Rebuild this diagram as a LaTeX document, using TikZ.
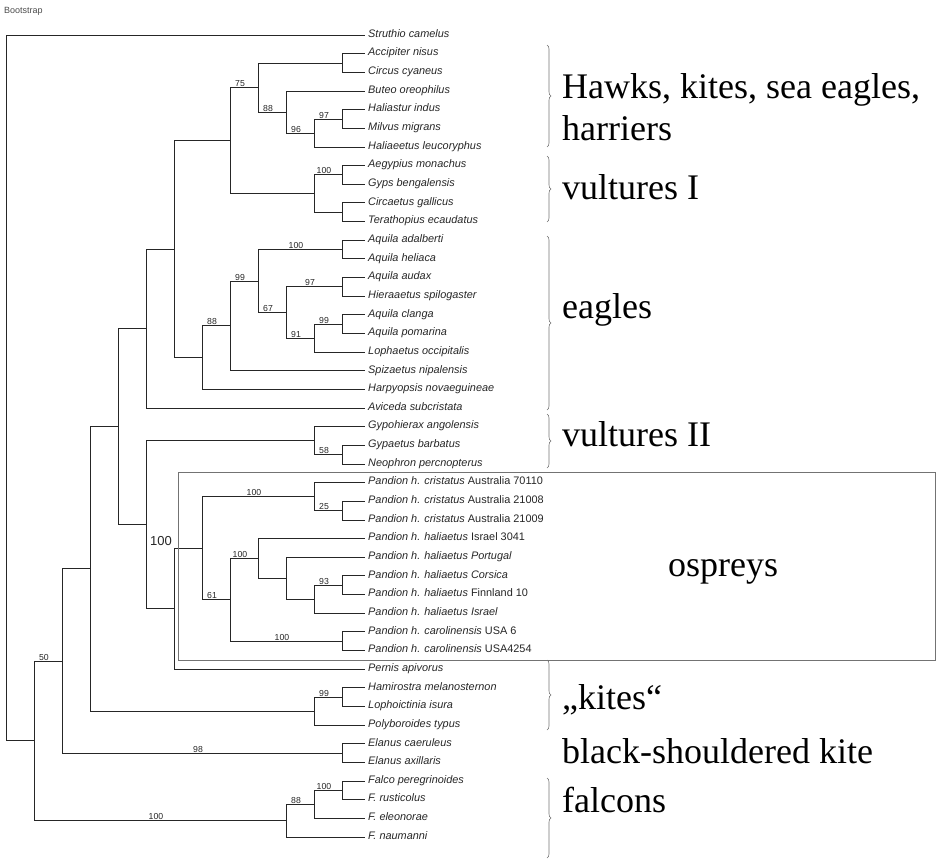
\documentclass[tikz,border=0pt]{standalone}
\usepackage{fontspec}
\setmainfont{Liberation Serif}
\setsansfont{Liberation Sans}
\usetikzlibrary{decorations.pathreplacing}
\newcommand\py[1]{((#1)-35)/18.65}
\newcommand\ed[2]{\draw[br] (#1) |- (#2);}
\newcommand\bsv[3]{\path (#1|-#2) -- (#2) node[bsl] (b#2) {#3};}
\begin{document}
\begin{tikzpicture}[x=1pt,y=-18.65pt,
  br/.style={draw=black!85, line width=0.8pt},
  leaf/.style={anchor=mid west, inner sep=0pt, text=black!85, font=\fontsize{10.9}{11}\sffamily\itshape},
  bsl/.style={midway, above=0.6pt, xshift=-4pt, inner sep=0pt, text=black!85, font=\fontsize{8.7}{9}\sffamily},
  grp/.style={anchor=base west, inner sep=0pt, font=\fontsize{36}{38}\selectfont},
  brk/.style={draw=black!55, line width=0.6pt, decorate, decoration={brace, amplitude=4pt}},
  boxs/.style={draw=black!55, line width=0.5pt}
]
\useasboundingbox (0,{\py{0}}) rectangle (937,{\py{863}});
\foreach \i in {0,...,43} \coordinate (t\i) at (365,\i);
% internal nodes
\coordinate (R) at (6,18.92);
\coordinate (N34) at (34,37.843);
\coordinate (N62) at (62,33.5615);
\coordinate (N90) at (90,28.623);
\coordinate (N118) at (118,20.996);
\coordinate (N146a) at (146,15.738);
\coordinate (N172) at (174,11.4766);
\coordinate (HV) at (230,5.65625);
\coordinate (H75) at (258,2.8125);
\coordinate (Hac) at (342,1.5);
\coordinate (H88) at (286,4.125);
\coordinate (H96) at (314,5.25);
\coordinate (H97) at (342,4.5);
\coordinate (V1) at (314,8.5);
\coordinate (V100) at (342,7.5);
\coordinate (Vcg) at (342,9.5);
\coordinate (E202) at (202,17.2969);
\coordinate (E88) at (230,15.5938);
\coordinate (E99) at (258,13.1875);
\coordinate (E100) at (342,11.5);
\coordinate (E67) at (286,14.875);
\coordinate (E97) at (342,13.5);
\coordinate (E91) at (314,16.25);
\coordinate (E99c) at (342,15.5);
\coordinate (N146b) at (146,26.254);
\coordinate (V2) at (314,21.75);
\coordinate (V58) at (342,22.5);
\coordinate (N174) at (174,30.758);
\coordinate (Oroot) at (202,27.516);
\coordinate (Ocris) at (314,24.75);
\coordinate (Oc25) at (342,25.5);
\coordinate (O61) at (230,30.281);
\coordinate (O100h) at (258,28.0625);
\coordinate (Oy) at (286,29.125);
\coordinate (Ox) at (314,30.25);
\coordinate (O93) at (342,29.5);
\coordinate (Ocar) at (342,32.5);
\coordinate (Kroot) at (314,36.25);
\coordinate (K99) at (342,35.5);
\coordinate (El) at (342,38.5);
\coordinate (Froot) at (286,42.125);
\coordinate (F88) at (314,41.25);
\coordinate (F100) at (342,40.5);
% edges
\ed{R}{t0} \ed{R}{N34}
\ed{N34}{N62} \ed{N34}{Froot}
\ed{N62}{N90} \ed{N62}{El}
\ed{N90}{N118} \ed{N90}{Kroot}
\ed{N118}{N146a} \ed{N118}{N146b}
\ed{N146a}{N172} \ed{N146a}{t20}
\ed{N172}{HV} \ed{N172}{E202}
\ed{HV}{H75} \ed{HV}{V1}
\ed{H75}{Hac} \ed{H75}{H88}
\ed{Hac}{t1} \ed{Hac}{t2}
\ed{H88}{t3} \ed{H88}{H96}
\ed{H96}{H97} \ed{H96}{t6}
\ed{H97}{t4} \ed{H97}{t5}
\ed{V1}{V100} \ed{V1}{Vcg}
\ed{V100}{t7} \ed{V100}{t8}
\ed{Vcg}{t9} \ed{Vcg}{t10}
\ed{E202}{E88} \ed{E202}{t19}
\ed{E88}{E99} \ed{E88}{t18}
\ed{E99}{E100} \ed{E99}{E67}
\ed{E100}{t11} \ed{E100}{t12}
\ed{E67}{E97} \ed{E67}{E91}
\ed{E97}{t13} \ed{E97}{t14}
\ed{E91}{E99c} \ed{E91}{t17}
\ed{E99c}{t15} \ed{E99c}{t16}
\ed{N146b}{V2} \ed{N146b}{N174}
\ed{V2}{t21} \ed{V2}{V58}
\ed{V58}{t22} \ed{V58}{t23}
\ed{N174}{Oroot} \ed{N174}{t34}
\ed{Oroot}{Ocris} \ed{Oroot}{O61}
\ed{Ocris}{t24} \ed{Ocris}{Oc25}
\ed{Oc25}{t25} \ed{Oc25}{t26}
\ed{O61}{O100h} \ed{O61}{Ocar}
\ed{O100h}{t27} \ed{O100h}{Oy}
\ed{Oy}{t28} \ed{Oy}{Ox}
\ed{Ox}{O93} \ed{Ox}{t31}
\ed{O93}{t29} \ed{O93}{t30}
\ed{Ocar}{t32} \ed{Ocar}{t33}
\ed{Kroot}{K99} \ed{Kroot}{t37}
\ed{K99}{t35} \ed{K99}{t36}
\ed{El}{t38} \ed{El}{t39}
\ed{Froot}{F88} \ed{Froot}{t43}
\ed{F88}{F100} \ed{F88}{t42}
\ed{F100}{t40} \ed{F100}{t41}
% bootstrap values
\bsv{HV}{H75}{75}
\bsv{H75}{H88}{88}
\bsv{H88}{H96}{96}
\bsv{H96}{H97}{97}
\bsv{V1}{V100}{100}
\bsv{E99}{E100}{100}
\bsv{E88}{E99}{99}
\bsv{E202}{E88}{88}
\bsv{E67}{E97}{97}
\bsv{E99}{E67}{67}
\bsv{E67}{E91}{91}
\bsv{E91}{E99c}{99}
\bsv{V2}{V58}{58}
\bsv{Oroot}{Ocris}{100}
\bsv{Ocris}{Oc25}{25}
\bsv{O61}{O100h}{100}
\bsv{Ox}{O93}{93}
\bsv{Oroot}{O61}{61}
\bsv{O61}{Ocar}{100}
\bsv{Kroot}{K99}{99}
\bsv{N34}{N62}{50}
\bsv{N62}{El}{98}
\bsv{F88}{F100}{100}
\bsv{Froot}{F88}{88}
\bsv{N34}{Froot}{100}
\node[inner sep=0pt, text=black!85, font=\fontsize{13}{13}\sffamily] (big100) at (161,{\py{541}}) {100};
\node[anchor=west, inner sep=0pt, text=black!70, font=\fontsize{9}{9}\sffamily] (bstitle) at (4,{\py{11}}) {Bootstrap};
% leaves
\node[leaf] (L0) at (368,0) {Struthio camelus};
\node[leaf] (L1) at (368,1) {Accipiter nisus};
\node[leaf] (L2) at (368,2) {Circus cyaneus};
\node[leaf] (L3) at (368,3) {Buteo oreophilus};
\node[leaf] (L4) at (368,4) {Haliastur indus};
\node[leaf] (L5) at (368,5) {Milvus migrans};
\node[leaf] (L6) at (368,6) {Haliaeetus leucoryphus};
\node[leaf] (L7) at (368,7) {Aegypius monachus};
\node[leaf] (L8) at (368,8) {Gyps bengalensis};
\node[leaf] (L9) at (368,9) {Circaetus gallicus};
\node[leaf] (L10) at (368,10) {Terathopius ecaudatus};
\node[leaf] (L11) at (368,11) {Aquila adalberti};
\node[leaf] (L12) at (368,12) {Aquila heliaca};
\node[leaf] (L13) at (368,13) {Aquila audax};
\node[leaf] (L14) at (368,14) {Hieraaetus spilogaster};
\node[leaf] (L15) at (368,15) {Aquila clanga};
\node[leaf] (L16) at (368,16) {Aquila pomarina};
\node[leaf] (L17) at (368,17) {Lophaetus occipitalis};
\node[leaf] (L18) at (368,18) {Spizaetus nipalensis};
\node[leaf] (L19) at (368,19) {Harpyopsis novaeguineae};
\node[leaf] (L20) at (368,20) {Aviceda subcristata};
\node[leaf] (L21) at (368,21) {Gypohierax angolensis};
\node[leaf] (L22) at (368,22) {Gypaetus barbatus};
\node[leaf] (L23) at (368,23) {Neophron percnopterus};
\node[leaf] (L24) at (368,24) {Pandion h. cristatus {\upshape Australia 70110}};
\node[leaf] (L25) at (368,25) {Pandion h. cristatus {\upshape Australia 21008}};
\node[leaf] (L26) at (368,26) {Pandion h. cristatus {\upshape Australia 21009}};
\node[leaf] (L27) at (368,27) {Pandion h. haliaetus {\upshape Israel 3041}};
\node[leaf] (L28) at (368,28) {Pandion h. haliaetus Portugal};
\node[leaf] (L29) at (368,29) {Pandion h. haliaetus Corsica};
\node[leaf] (L30) at (368,30) {Pandion h. haliaetus {\upshape Finnland 10}};
\node[leaf] (L31) at (368,31) {Pandion h. haliaetus Israel};
\node[leaf] (L32) at (368,32) {Pandion h. carolinensis {\upshape USA 6}};
\node[leaf] (L33) at (368,33) {Pandion h. carolinensis {\upshape USA4254}};
\node[leaf] (L34) at (368,34) {Pernis apivorus};
\node[leaf] (L35) at (368,35) {Hamirostra melanosternon};
\node[leaf] (L36) at (368,36) {Lophoictinia isura};
\node[leaf] (L37) at (368,37) {Polyboroides typus};
\node[leaf] (L38) at (368,38) {Elanus caeruleus};
\node[leaf] (L39) at (368,39) {Elanus axillaris};
\node[leaf] (L40) at (368,40) {Falco peregrinoides};
\node[leaf] (L41) at (368,41) {F. rusticolus};
\node[leaf] (L42) at (368,42) {F. eleonorae};
\node[leaf] (L43) at (368,43) {F. naumanni};
% osprey box
\draw[boxs] (178,{\py{472}}) rectangle (935,{\py{660}});
% brackets
\draw[brk] (547,{\py{45}}) -- (547,{\py{147}});
\draw[brk] (547,{\py{156}}) -- (547,{\py{222}});
\draw[brk] (547,{\py{236}}) -- (547,{\py{410}});
\draw[brk] (547,{\py{414}}) -- (547,{\py{468}});
\draw[brk] (547,{\py{660}}) -- (547,{\py{730}});
\draw[brk] (547,{\py{778}}) -- (547,{\py{858}});
% group labels
\node[grp] (gH) at (562,{\py{98}}) {Hawks, kites, sea eagles,};
\node[grp] (gH2) at (562,{\py{140}}) {harriers};
\node[grp] (gV1) at (562,{\py{199}}) {vultures I};
\node[grp] (gE) at (562,{\py{318}}) {eagles};
\node[grp] (gV2) at (562,{\py{446}}) {vultures II};
\node[grp] (gO) at (668,{\py{576}}) {ospreys};
\node[grp] (gK) at (562,{\py{709}}) {„kites“};
\node[grp] (gB) at (562,{\py{763}}) {black-shouldered kite};
\node[grp] (gF) at (562,{\py{812}}) {falcons};
\end{tikzpicture}
\end{document}
